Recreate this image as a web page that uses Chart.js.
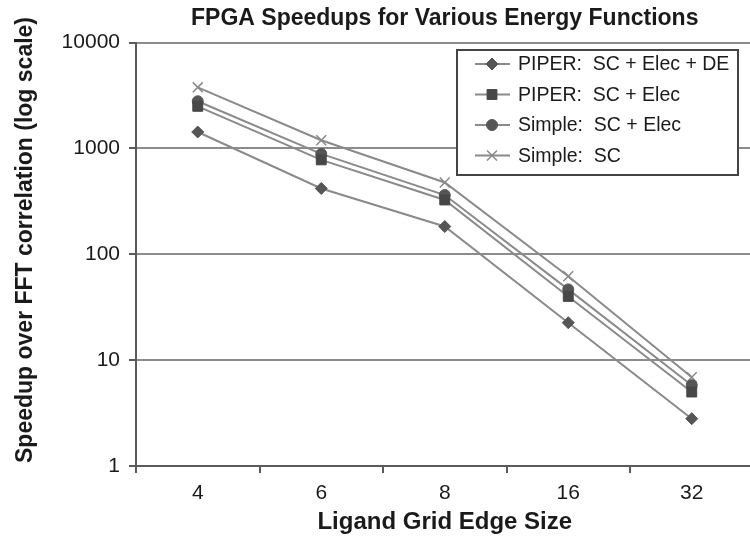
<!DOCTYPE html>
<html>
<head>
<meta charset="utf-8">
<script src="https://cdn.jsdelivr.net/npm/chart.js@4.4.0/dist/chart.umd.min.js"></script>
<style>
    html, body { margin: 0; padding: 0; background: #fff; overflow: hidden; }
    #wrap { width: 762px; height: 547px; }
</style>
</head>
<body>
<div id="wrap"><canvas id="speedupChart" width="762" height="547"></canvas></div>
<script>
const gridSizes = ["4", "6", "8", "16", "32"];
const piperFull = [1430, 419, 183, 22.6, 2.8];
const piperElec = [2500, 780, 326, 40, 5.0];
const simpleElec = [2790, 888, 363, 46.6, 5.8];
const simpleSC = [3780, 1195, 477, 62, 6.9];
const yTicks = [1, 10, 100, 1000, 10000];

const seriesNames = ["PIPER:  SC + Elec + DE", "PIPER:  SC + Elec", "Simple:  SC + Elec", "Simple:  SC"];

const lineColor = "#8a8a8a";
const textColor = "#1a1a1a";
const axisColor = "#5a5a5a";

// boxed legend with line + marker samples, like the original
const boxLegend = {
    id: "boxLegend",
    afterDatasetsDraw: (chart) => {
        const ctx = chart.ctx;
        const left = 457, top = 50, w = 281, h = 125;
        ctx.save();
        ctx.fillStyle = "#fff";
        ctx.fillRect(left, top, w, h);
        ctx.strokeStyle = "#444";
        ctx.lineWidth = 2;
        ctx.strokeRect(left, top, w, h);

        ctx.font = "19.5px 'Liberation Sans', Arial, sans-serif";
        ctx.textBaseline = "middle";
        chart.data.datasets.forEach((ds, i) => {
            const y = top + 14 + i * 30.5;
            ctx.strokeStyle = ds.borderColor;
            ctx.lineWidth = 2;
            ctx.beginPath();
            ctx.moveTo(left + 18, y);
            ctx.lineTo(left + 53, y);
            ctx.stroke();

            ctx.fillStyle = ds.pointBackgroundColor;
            ctx.strokeStyle = ds.pointBorderColor;
            ctx.lineWidth = ds.pointBorderWidth;
            Chart.helpers.drawPoint(ctx, {
                pointStyle: ds.pointStyle,
                radius: ds.pointRadius,
                rotation: 0,
                borderWidth: ds.pointBorderWidth
            }, left + 35, y);

            ctx.fillStyle = textColor;
            ctx.fillText(ds.label, left + 61, y + 1);
        });
        ctx.restore();
    }
};

// y axis title, drawn by hand so it is not squeezed to the plot height
const yTitle = {
    id: "yTitle",
    afterDraw: (chart) => {
        const ctx = chart.ctx;
        ctx.save();
        ctx.translate(26, 240);
        ctx.rotate(-Math.PI / 2);
        ctx.font = "bold 23px 'Liberation Sans', Arial, sans-serif";
        ctx.fillStyle = textColor;
        ctx.textAlign = "center";
        ctx.textBaseline = "middle";
        ctx.fillText("Speedup over FFT correlation (log scale)", 0, 0);
        ctx.restore();
    }
};

const makeSet = (label, data, style, radius, fill, border, bw) => ({
    label: label,
    data: data,
    borderColor: lineColor,
    borderWidth: 2,
    tension: 0,
    fill: false,
    pointStyle: style,
    pointRadius: radius,
    pointHoverRadius: radius,
    pointBackgroundColor: fill,
    pointBorderColor: border,
    pointBorderWidth: bw
});

const initChart = () => {
    const ctx = document.getElementById("speedupChart").getContext("2d");

    new Chart(ctx, {
        type: "line",
        data: {
            labels: gridSizes,
            datasets: [
                makeSet(seriesNames[0], piperFull, "rectRot", 6, "#555", "#555", 1),
                makeSet(seriesNames[1], piperElec, "rect", 7, "#474747", "#474747", 1),
                makeSet(seriesNames[2], simpleElec, "circle", 5.5, "#555", "#555", 1),
                makeSet(seriesNames[3], simpleSC, "crossRot", 7, "#888", "#888", 1.5)
            ]
        },
        options: {
            responsive: false,
            animation: false,
            layout: {
                padding: { left: 0, right: 4, top: 0, bottom: 0 }
            },
            plugins: {
                legend: { display: false },
                tooltip: { enabled: false },
                title: {
                    display: true,
                    text: "FPGA Speedups for Various Energy Functions",
                    color: textColor,
                    fullSize: false,
                    font: { family: "'Liberation Sans', Arial, sans-serif", size: 23, weight: "bold" },
                    padding: { top: 5, bottom: 10 }
                }
            },
            scales: {
                x: {
                    type: "category",
                    offset: true,
                    afterFit: (scale) => { scale.height = 81; },
                    grid: {
                        offset: true,
                        drawOnChartArea: false,
                        drawTicks: true,
                        tickLength: 7,
                        color: axisColor,
                        lineWidth: 2
                    },
                    border: { display: true, color: axisColor, width: 2 },
                    ticks: {
                        color: textColor,
                        padding: 8,
                        font: { family: "'Liberation Sans', Arial, sans-serif", size: 21 }
                    },
                    title: {
                        display: true,
                        text: "Ligand Grid Edge Size",
                        color: textColor,
                        font: { family: "'Liberation Sans', Arial, sans-serif", size: 24, weight: "bold" },
                        padding: { top: 0, bottom: 10 }
                    }
                },
                y: {
                    type: "logarithmic",
                    min: 1,
                    max: 10000,
                    afterFit: (scale) => { scale.width = 136; },
                    afterBuildTicks: (scale) => {
                        scale.ticks = yTicks.map(v => ({ value: v }));
                    },
                    grid: {
                        color: "#8c8c8c",
                        lineWidth: 2,
                        tickLength: 7,
                        tickColor: axisColor
                    },
                    border: { display: true, color: axisColor, width: 2 },
                    ticks: {
                        color: textColor,
                        padding: 9,
                        font: { family: "'Liberation Sans', Arial, sans-serif", size: 21 },
                        callback: (v) => String(v)
                    }
                }
            }
        },
        plugins: [boxLegend, yTitle]
    });
};

window.addEventListener("load", () => {
    initChart();
});
</script>
</body>
</html>
